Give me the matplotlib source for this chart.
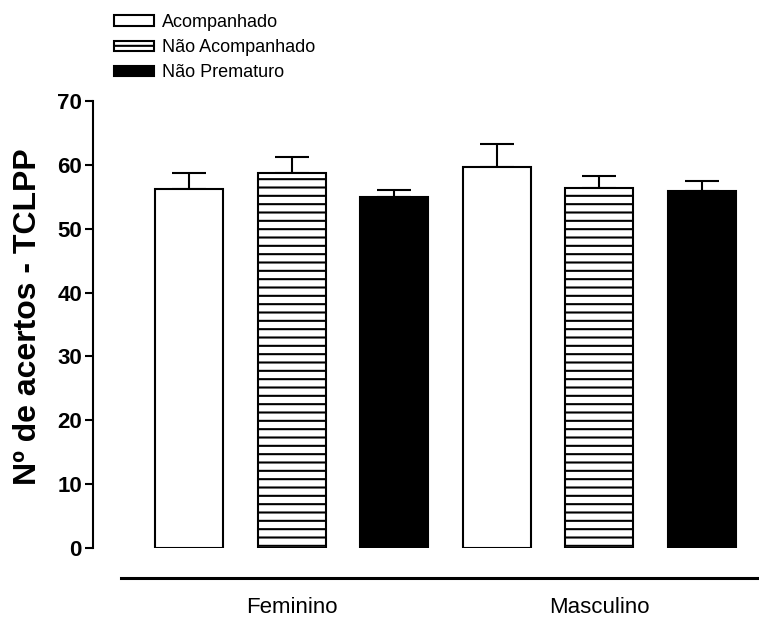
import matplotlib
matplotlib.use('Agg')
import matplotlib.pyplot as plt
import numpy as np

plt.rcParams['font.family'] = ['Liberation Sans', 'DejaVu Sans']
plt.rcParams['hatch.linewidth'] = 1.5

# data
groups = ['Feminino', 'Masculino']
series = ['Acompanhado', 'Não Acompanhado', 'Não Prematuro']
means = [[56.2, 58.7, 54.9],    # Feminino
         [59.7, 56.4, 55.9]]    # Masculino
sem = [[2.6, 2.5, 1.2],
       [3.5, 1.8, 1.6]]
styles = [dict(color='white', hatch=None),
          dict(color='white', hatch='--'),
          dict(color='black', hatch=None)]

fig = plt.figure(figsize=(7.59, 6.19), dpi=100)
ax = fig.add_axes([93/759, 1-548/619, (757-93)/759, (548-101)/619])

n = len(series)
width = 0.663
handles = []
for j, name in enumerate(series):
    xs = np.arange(len(groups)) * n + j
    vals = [means[g][j] for g in range(len(groups))]
    errs = [sem[g][j] for g in range(len(groups))]
    b = ax.bar(xs, vals, width=width, color=styles[j]['color'], edgecolor='black',
               linewidth=1.5, hatch=styles[j]['hatch'], label=name, zorder=2)
    ax.errorbar(xs, vals, yerr=[np.zeros(len(errs)), errs], fmt='none', ecolor='black',
                elinewidth=1.5, capsize=12, capthick=1.5, zorder=1)
    handles.append(b)

ax.set_ylim(0, 70)
ax.set_xlim(-0.937, 5.54)
ax.set_yticks(np.arange(0, 71, 10))
ax.tick_params(axis='y', direction='out', length=6, width=1.5, labelsize=16, pad=2)
for t in ax.get_yticklabels():
    t.set_fontweight('bold')
ax.set_xticks([1, 4])
ax.set_xticklabels(groups, fontsize=16)
ax.tick_params(axis='x', length=0, pad=35)

for s in ['top', 'right', 'bottom']:
    ax.spines[s].set_visible(False)
ax.spines['left'].set_linewidth(1.5)

# separate baseline under the bars
ax.plot([0.042, 1.0], [-0.067, -0.067], transform=ax.transAxes, color='black',
        lw=2.2, clip_on=False)

ax.set_ylabel('Nº de acertos - TCLPP', fontsize=23, fontweight='bold')
ax.yaxis.set_label_coords(-0.076, 0.517)

fig.legend(handles=handles, labels=series, loc='upper left',
           bbox_to_anchor=(114/759, 1-14/619), frameon=False, fontsize=13,
           handlelength=2.2, handleheight=0.5, handletextpad=0.45, labelspacing=0.45,
           borderaxespad=0, borderpad=0)

fig.savefig('out.png', dpi=100)
